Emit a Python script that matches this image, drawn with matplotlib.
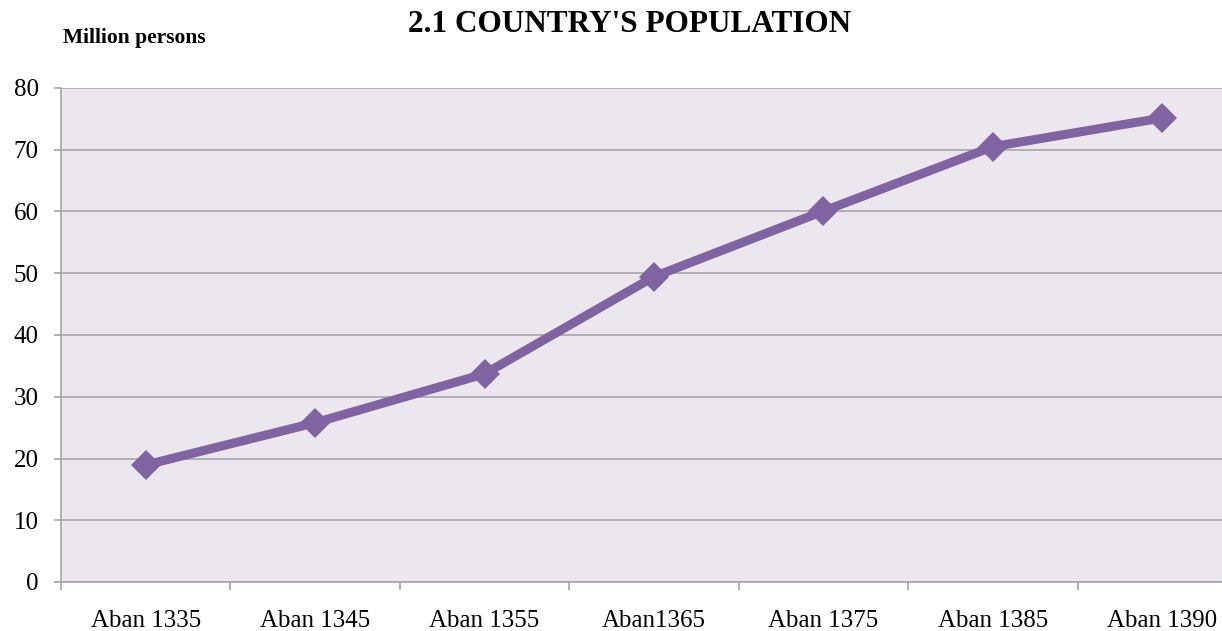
import matplotlib.pyplot as plt
import numpy as np

# population data (million persons)
categories = ["Aban 1335", "Aban 1345", "Aban 1355", "Aban1365",
              "Aban 1375", "Aban 1385", "Aban 1390"]
population = [18.95, 25.79, 33.71, 49.45, 60.06, 70.50, 75.15]
y_ticks = [0, 10, 20, 30, 40, 50, 60, 70, 80]

plt.rcParams['font.family'] = ['Liberation Serif', 'DejaVu Serif']

fig = plt.figure(figsize=(12.22, 6.31), dpi=100)
# plot area runs past the right edge like in the original
ax = fig.add_axes([61 / 1222, 1 - 582 / 631, 1186 / 1222, 494 / 631])
ax.set_facecolor('#ECE7EF')

x = np.arange(len(categories))
ax.plot(x, population, color='#8064A2', linewidth=6.5, marker='D',
        markersize=15, markeredgewidth=0, zorder=3, clip_on=False)

ax.set_xlim(-0.5, len(categories) - 0.5)
ax.set_ylim(0, 80)
ax.set_yticks(y_ticks)
ax.set_yticklabels([str(v) for v in y_ticks], fontsize=18)
ax.yaxis.grid(True, color='#A6A6A6', linewidth=1.2)
ax.set_axisbelow(True)

# category labels between boundary ticks
ax.set_xticks(np.arange(len(categories) + 1) - 0.5)
ax.set_xticklabels([])
ax.set_xticks(x, minor=True)
ax.set_xticklabels(categories, minor=True, fontsize=18)
ax.tick_params(axis='x', which='minor', length=0, pad=20)
ax.tick_params(axis='x', which='major', length=6, color='#A6A6A6', width=1.2)
ax.tick_params(axis='y', length=5, color='#A6A6A6', width=1.2, pad=11)

for side in ['top', 'right']:
    ax.spines[side].set_visible(False)
for side in ['left', 'bottom']:
    ax.spines[side].set_color('#A6A6A6')
    ax.spines[side].set_linewidth(1.2)

fig.text(630 / 1222, 1 - 24 / 631, "2.1 COUNTRY'S POPULATION", fontsize=22.5,
         fontweight='bold', ha='center', va='center')
fig.text(63 / 1222, 1 - 38 / 631, "Million persons", fontsize=15.5,
         fontweight='bold', ha='left', va='center')

fig.savefig('out.png', dpi=100)
